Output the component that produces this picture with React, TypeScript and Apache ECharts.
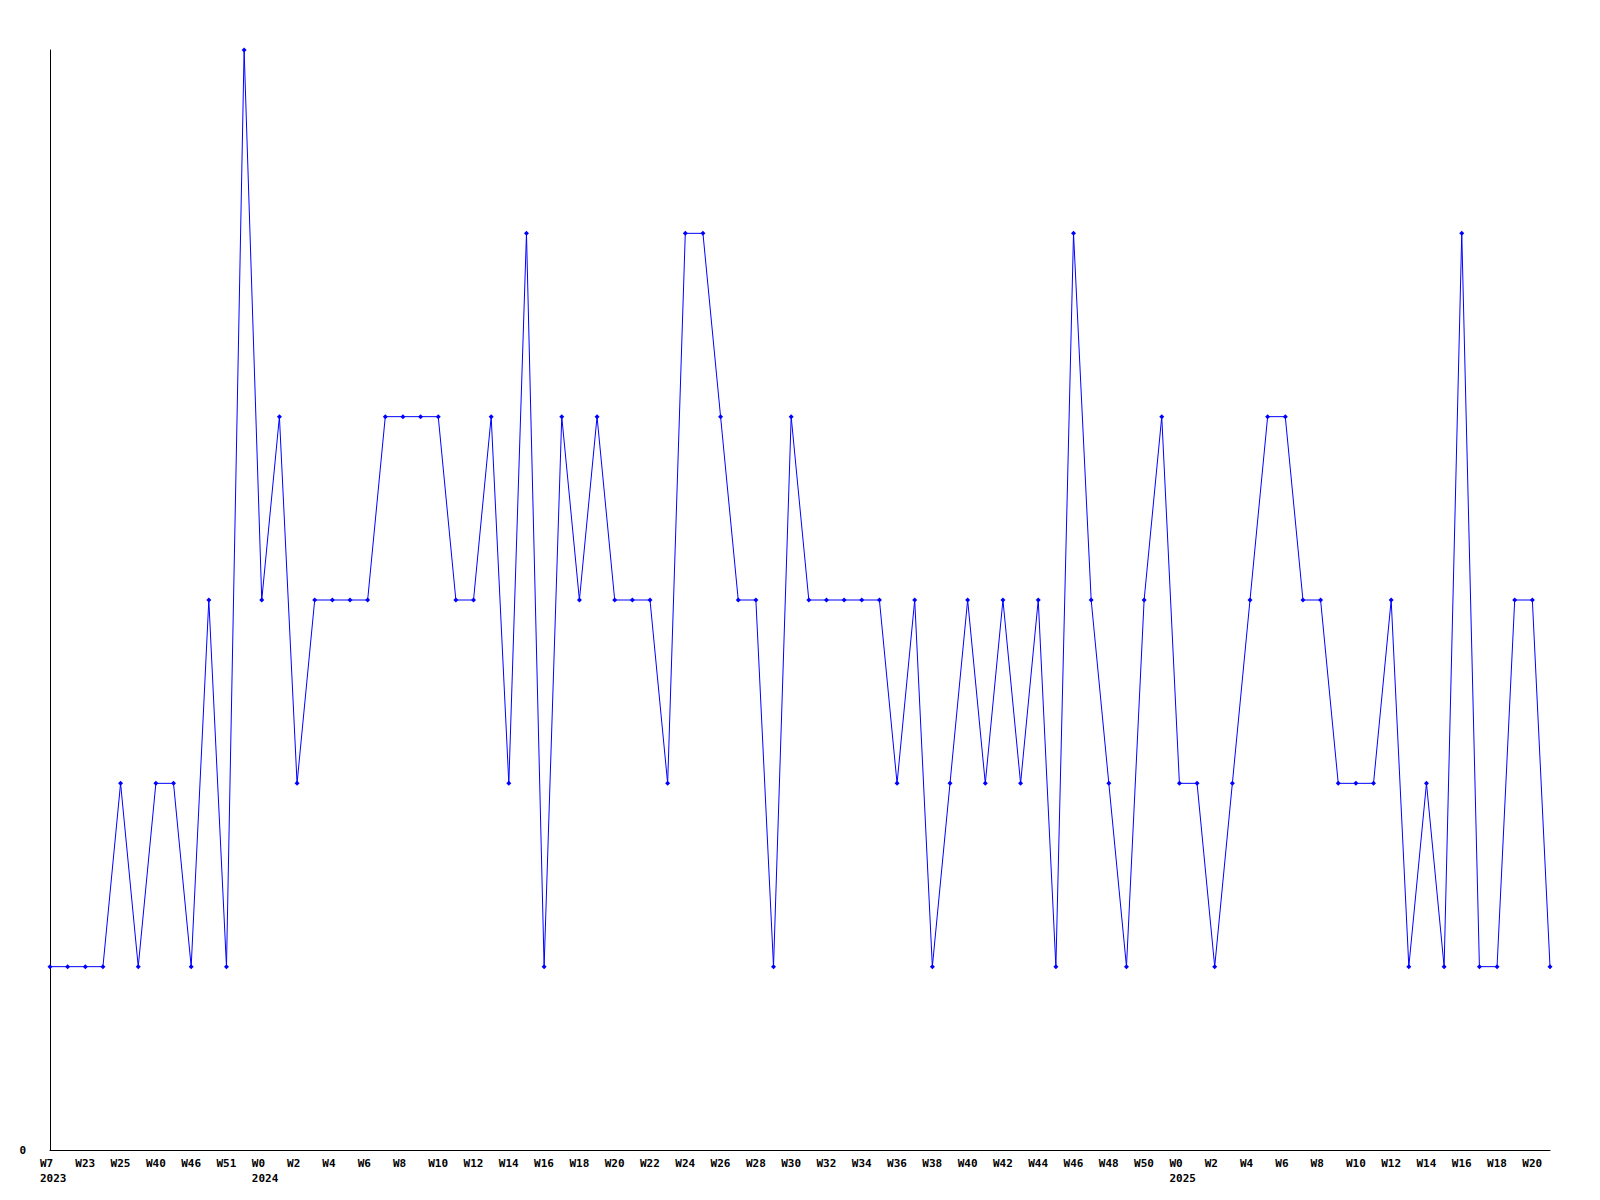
import React, { useEffect, useRef } from "react";
import * as echarts from "echarts";

const weeks2023 = ["W7", "W21", "W23", "W24", "W25", "W35", "W40", "W43", "W46", "W49", "W51", "W52"];
const weeks2024 = Array.from({ length: 52 }, (_, i) => "W" + i);
const weeks2025 = Array.from({ length: 22 }, (_, i) => "W" + i);

const values = [
  1, 1, 1, 1, 2, 1, 2, 2, 1, 3, 1, 6,
  3, 4, 2, 3, 3, 3, 3, 4, 4, 4, 4, 3, 3, 4, 2, 5, 1, 4, 3, 4, 3, 3, 3, 2,
  5, 5, 4, 3, 3, 1, 4, 3, 3, 3, 3, 3, 2, 3, 1, 2, 3, 2, 3, 2, 3, 1, 5, 3,
  2, 1, 3, 4,
  2, 2, 1, 2, 3, 4, 4, 3, 3, 2, 2, 2, 3, 1, 2, 1, 5, 1, 1, 3, 3, 1,
];

const categories: string[] = [
  ...weeks2023.map((w, i) => (i === 0 ? w + "\n2023" : w)),
  ...weeks2024.map((w, i) => (i === 0 ? w + "\n2024" : w)),
  ...weeks2025.map((w, i) => (i === 0 ? w + "\n2025" : w)),
];

export default function App() {
  const ref = useRef<HTMLDivElement>(null);
  useEffect(() => {
    if (!ref.current) return;
    const chart = echarts.init(ref.current, null, { renderer: "svg" });
    const font = {
      fontFamily: "DejaVu Sans Mono",
      fontWeight: "bold" as const,
      fontSize: 11,
      color: "#000",
    };
    chart.setOption({
      animation: false,
      backgroundColor: "#fff",
      grid: { left: 50, right: 50, top: 50, bottom: 50 },
      xAxis: {
        type: "category",
        data: categories,
        boundaryGap: false,
        axisLine: { lineStyle: { color: "#000", width: 1 } },
        axisTick: { show: false },
        axisLabel: {
          ...font,
          interval: 1,
          margin: 6,
          lineHeight: 15,
          align: "left",
          padding: [0, 0, 0, -10],
        },
        splitLine: { show: false },
      },
      yAxis: {
        type: "value",
        min: 0,
        max: 6,
        interval: 1,
        axisLine: { show: true, lineStyle: { color: "#000", width: 1 } },
        axisTick: { show: false },
        splitLine: { show: false },
        axisLabel: {
          ...font,
          margin: 24,
          formatter: (v: number) => (v === 0 ? "0" : ""),
        },
      },
      series: [
        {
          type: "line",
          data: values,
          symbol: "diamond",
          symbolSize: 5,
          showSymbol: true,
          lineStyle: { color: "#0000ff", width: 1 },
          itemStyle: { color: "#0000ff" },
        },
      ],
    });
    return () => chart.dispose();
  }, []);
  return (
    <div
      ref={ref}
      style={{ position: "fixed", left: 0, top: 0, width: 1600, height: 1200, background: "#fff" }}
    />
  );
}
